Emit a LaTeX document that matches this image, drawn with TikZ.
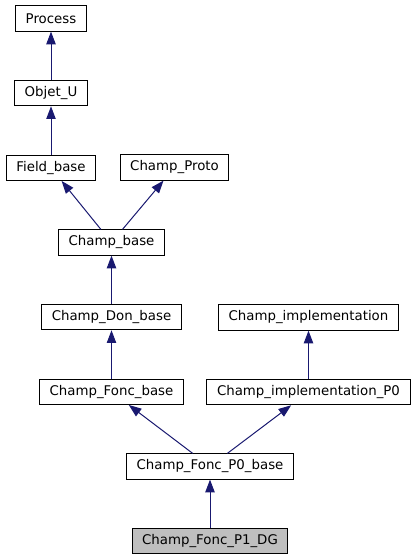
\documentclass[tikz,border=0pt]{standalone}
\usepackage{fontspec}
\setmainfont{DejaVu Sans}
\usetikzlibrary{arrows.meta,positioning}
\definecolor{edgeblue}{HTML}{191970}
\definecolor{selgray}{HTML}{BFBFBF}
\tikzset{
    cls/.style={draw, line width=0.75pt, inner xsep=7.6pt, inner ysep=0pt,
        minimum height=18.9pt, font=\fontsize{10}{12}\selectfont},
    inh/.style={edgeblue, line width=0.75pt, -{Triangle[length=9.5pt,width=7pt]}}
}
\begin{document}
\begin{tikzpicture}[x=0.75pt, y=-0.75pt, node distance=56pt]
        \useasboundingbox (0,0) rectangle (416,560);
        \node[cls] (process) at (51,18.5) {Process};
        \node[cls] (objetu) [below of=process] {Objet\_U};
        \node[cls] (fieldbase) [below of=objetu] {Field\_base};
        \node[cls] (champproto) at (174.5,167.5) {Champ\_Proto};
        \node[cls] (champbase) at (111.5,242.5) {Champ\_base};
        \node[cls] (champdon) [below of=champbase] {Champ\_Don\_base};
        \node[cls] (champfonc) [below of=champdon] {Champ\_Fonc\_base};
        \node[cls] (champimpl) at (308.5,317.5) {Champ\_implementation};
        \node[cls] (champimplp0) [below of=champimpl] {Champ\_implementation\_P0};
        \node[cls] (foncp0) at (210,466.5) {Champ\_Fonc\_P0\_base};
        \node[cls, fill=selgray] (foncp1dg) [below of=foncp0] {Champ\_Fonc\_P1\_DG};

        \draw[inh] (objetu) edge (process);
        \draw[inh] (fieldbase) edge (objetu);
        \draw[inh] (champbase)
        edge (fieldbase)
        edge (champproto);
        \draw[inh] (champdon) edge (champbase);
        \draw[inh] (champfonc) edge (champdon);
        \draw[inh] (champimplp0) edge (champimpl);
        \draw[inh] (foncp0)
        edge (champfonc)
        edge (champimplp0);
        \draw[inh] (foncp1dg) edge (foncp0);
    \end{tikzpicture}
\end{document}
